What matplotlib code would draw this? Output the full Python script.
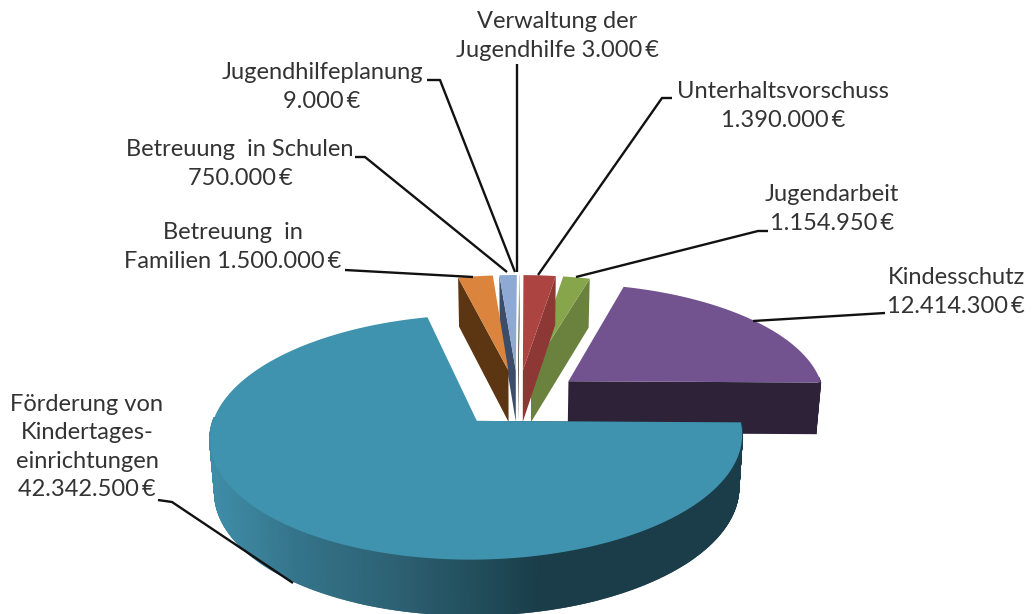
import numpy as np
import matplotlib
matplotlib.use('Agg')
import matplotlib.pyplot as plt
from matplotlib.colors import LinearSegmentedColormap

plt.rcParams['font.family'] = ['Lato', 'DejaVu Sans']

# chart order, counter clockwise from the right hand side
names = ['Kindesschutz', 'Jugendarbeit', 'Unterhaltsvorschuss', 'Verwaltung der Jugendhilfe',
         'Jugendhilfeplanung', 'Betreuung in Schulen', 'Betreuung in Familien',
         'Förderung von Kindertageseinrichtungen']
values = [12414300, 1154950, 1390000, 3000, 9000, 750000, 1500000, 42342500]

tops  = ['#725390', '#87A64C', '#AC4442', '#4198AF', '#DB843D', '#8DA9D4', '#DB843D', '#3F93AE']
sides = ['#2E2238', '#6B823E', '#8E3835', '#245868', '#5C3613', '#3C4D69', '#5C3613', '#1A3D49']

labels = ['Kindesschutz\n12.414.300\u2009€', 'Jugendarbeit\n1.154.950\u2009€', 'Unterhaltsvorschuss\n1.390.000\u2009€',
          'Verwaltung der\nJugendhilfe 3.000\u2009€', 'Jugendhilfeplanung\n9.000\u2009€',
          'Betreuung  in Schulen\n750.000\u2009€', 'Betreuung  in\nFamilien 1.500.000\u2009€',
          'Förderung von\nKindertages-\neinrichtungen\n42.342.500\u2009€']
label_xy = [(956, 292), (832, 209), (783, 106), (557, 36), (322, 87), (240, 164), (233, 247), (87, 447)]
leaders = [[(885, 313), (753, 321)],
           [(768, 231), (758, 231), (576, 277)],
           [(672, 98), (662, 98), (538, 275)],
           [(517, 64), (517, 272)],
           [(427, 80), (440, 80), (515, 272)],
           [(355, 157), (365, 157), (507, 272)],
           [(345, 270), (473, 277)],
           [(158, 500), (172, 502), (293, 583)]]

# projection of the pie plane
cx, cy = 518, 398
ax_w, ax_h = 257, 114.3
persp = 0.1295
explode = 0.25
depth = 52
start = np.radians(-0.7)


def project(X, Y):
    s = 1 / (1 + persp * Y)
    return cx + ax_w * X * s, cy - ax_h * Y * s


def drop(X, Y):
    # same point on the bottom of the slice
    x, y = project(X, Y)
    return cx + (x - cx) * 0.984, y + depth / (1 + 0.05 * Y)


def quad(X, Y, color, lw=0):
    top = [project(a, b) for a, b in zip(X, Y)]
    bot = [drop(a, b) for a, b in zip(X[::-1], Y[::-1])]
    pts = np.array(top + bot)
    ax.fill(pts[:, 0], pts[:, 1], color=color, lw=lw)


fig = plt.figure(figsize=(10.33, 6.14), dpi=100)
ax = fig.add_axes([0, 0, 1, 1])
ax.set_xlim(0, 1033)
ax.set_ylim(614, 0)
ax.axis('off')

wall_cmap = LinearSegmentedColormap.from_list(
    'wall', [(0, '#3F8CA6'), (0.25, '#34748A'), (0.55, '#2D6173'), (0.8, '#224E5C'), (1, '#1A3D49')])

angles = start + np.cumsum([0] + values) / sum(values) * 2 * np.pi

for i in range(len(values)):
    a0, a1 = angles[i], angles[i + 1]
    mid = (a0 + a1) / 2
    ox, oy = explode * np.cos(mid), explode * np.sin(mid)
    is_big = values[i] == max(values)
    th = np.linspace(a0, a1, max(int(np.degrees(a1 - a0)) * 3, 2) + 1)
    ex = ox + np.cos(th)
    ey = oy + np.sin(th)

    # radial wall which looks at the viewer
    edge = a0 if np.cos(mid) > 0 else a1
    quad([ox + np.cos(edge), ox], [oy + np.sin(edge), oy], sides[i])

    # outer wall, the back part can't be seen
    for j in range(len(th) - 1):
        if np.sin(th[j]) > 0.03:
            continue
        if is_big:
            xm = project(ex[j], ey[j])[0]
            quad(ex[j:j + 2], ey[j:j + 2], wall_cmap(np.clip((xm - 215) / (540 - 215), 0, 1)), lw=1.2)
        else:
            quad(ex[j:j + 2], ey[j:j + 2], sides[i], lw=0.3)

    # top of the slice
    pts = np.array([project(ox, oy)] + [project(a, b) for a, b in zip(ex, ey)])
    ax.fill(pts[:, 0], pts[:, 1], color=tops[i], lw=0)

for line in leaders:
    pts = np.array(line)
    ax.plot(pts[:, 0], pts[:, 1], color='#111111', lw=1.7, solid_capstyle='butt')

for txt, (x, y) in zip(labels, label_xy):
    ax.text(x, y, txt, ha='center', va='center', fontsize=17, color='#333333', linespacing=1.42)

fig.savefig('out.png', dpi=100)
